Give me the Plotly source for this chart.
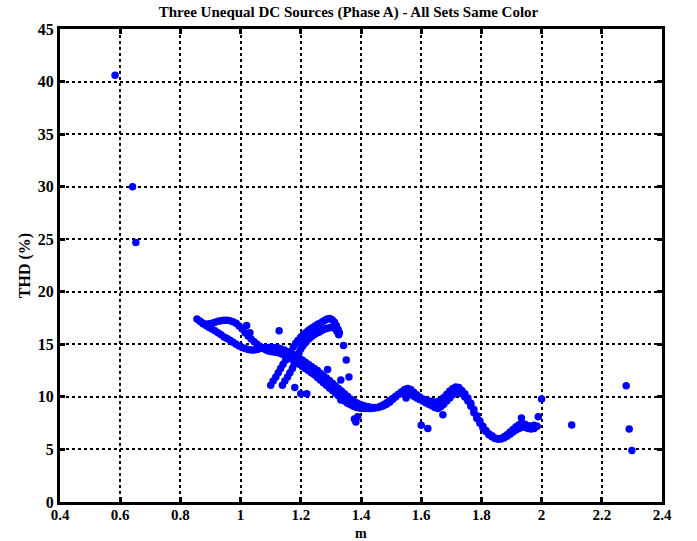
import plotly.graph_objects as go

# ---- data ----
main_m = [0.855, 0.865, 0.875, 0.885, 0.895, 0.905, 0.915, 0.925, 0.935, 0.945,
          0.955, 0.965, 0.975, 0.985, 0.995, 1.005, 1.015, 1.025, 1.035, 1.045,
          1.055, 1.065, 1.075, 1.085, 1.095, 1.105, 1.115, 1.125, 1.135, 1.145,
          1.155, 1.165, 1.175, 1.185, 1.195, 1.205, 1.215, 1.225, 1.235, 1.245,
          1.255, 1.265, 1.275, 1.285, 1.295, 1.305, 1.315, 1.325, 1.335, 1.345,
          1.355, 1.365, 1.375, 1.385, 1.395, 1.405, 1.415, 1.425, 1.435, 1.445,
          1.455, 1.465, 1.475, 1.485, 1.495, 1.505, 1.515, 1.525, 1.535, 1.545,
          1.555, 1.565, 1.575, 1.585, 1.595, 1.605, 1.615, 1.625, 1.635, 1.645,
          1.655, 1.665, 1.675, 1.685, 1.695, 1.705, 1.715, 1.725, 1.735, 1.745,
          1.755, 1.765, 1.775, 1.785, 1.795, 1.805, 1.815, 1.825, 1.835, 1.845,
          1.855, 1.865, 1.875, 1.885, 1.895, 1.905, 1.915, 1.925, 1.935, 1.945,
          1.955, 1.965, 1.975, 1.985]
main_thd = [17.4, 17.2, 16.95, 16.8, 16.6, 16.45, 16.3, 16.1, 15.9, 15.7,
            15.55, 15.4, 15.2, 15.0, 14.85, 14.7, 14.6, 14.5, 14.45, 14.45,
            14.5, 14.6, 14.65, 14.7, 14.7, 14.7, 14.7, 14.65, 14.55, 14.45,
            14.3, 14.15, 14.0, 13.8, 13.65, 13.5, 13.3, 13.1, 12.9, 12.7,
            12.5, 12.25, 12.0, 11.8, 11.55, 11.3, 11.05, 10.8, 10.55, 10.3,
            10.05, 9.8, 9.6, 9.45, 9.3, 9.2, 9.1, 9.05, 9.0, 9.0,
            9.0, 9.05, 9.15, 9.3, 9.5, 9.75, 10.0, 10.25, 10.5, 10.7,
            10.8, 10.7, 10.45, 10.2, 10.0, 9.8, 9.7, 9.6, 9.55, 9.5,
            9.55, 9.7, 9.95, 10.25, 10.55, 10.8, 10.95, 10.9, 10.6, 10.3,
            9.9, 9.4, 8.8, 8.2, 7.7, 7.2, 6.8, 6.5, 6.3, 6.1,
            6.0, 6.0, 6.1, 6.25, 6.45, 6.65, 6.85, 7.0, 7.1, 7.1,
            7.0, 6.95, 7.0, 7.2]

second_m = [0.865, 0.875, 0.885, 0.895, 0.905, 0.915, 0.925, 0.935, 0.945, 0.955,
            0.965, 0.975, 0.985, 0.995, 1.005, 1.015, 1.025, 1.035, 1.045, 1.055,
            1.065, 1.075, 1.085, 1.095, 1.105, 1.115, 1.125, 1.135, 1.145, 1.155,
            1.165, 1.175, 1.185, 1.195, 1.205, 1.215, 1.225, 1.235, 1.245, 1.255,
            1.265, 1.275, 1.285, 1.295, 1.305, 1.315, 1.325, 1.335, 1.345, 1.355,
            1.365, 1.375, 1.385, 1.395, 1.405, 1.415, 1.425, 1.435, 1.445, 1.455,
            1.465, 1.475, 1.485, 1.495, 1.505, 1.515, 1.525, 1.535, 1.545, 1.555,
            1.565, 1.575, 1.585, 1.595, 1.605, 1.615, 1.625, 1.635, 1.645, 1.655,
            1.665, 1.675, 1.685, 1.695, 1.705, 1.715, 1.725, 1.735, 1.745, 1.755,
            1.765, 1.775, 1.785, 1.795, 1.805, 1.815, 1.825, 1.835, 1.845, 1.855,
            1.865, 1.875, 1.885, 1.895, 1.905, 1.915, 1.925, 1.935, 1.945, 1.955,
            1.965, 1.975]
second_thd = [17.2, 17.0, 16.9, 16.95, 17.0, 17.1, 17.2, 17.25, 17.3, 17.3,
              17.25, 17.15, 17.0, 16.75, 16.45, 16.1, 15.8, 15.5, 15.25, 15.0,
              14.8, 14.6, 14.45, 14.35, 14.3, 14.25, 14.2, 14.1, 13.95, 13.8,
              13.65, 13.5, 13.3, 13.1, 12.9, 12.7, 12.5, 12.3, 12.1, 11.85,
              11.6, 11.35, 11.1, 10.85, 10.6, 10.35, 10.1, 9.85, 9.6, 9.4,
              9.25, 9.1, 9.0, 8.95, 8.9, 8.9, 8.9, 8.9, 8.95, 9.0,
              9.1, 9.25, 9.45, 9.65, 9.85, 10.05, 10.25, 10.4, 10.5, 10.45,
              10.25, 10.05, 9.9, 9.75, 9.6, 9.45, 9.3, 9.15, 9.0, 8.9,
              9.05, 9.3, 9.6, 9.9, 10.2, 10.4, 10.45, 10.3, 10.0, 9.6,
              9.1, 8.5, 7.95, 7.5, 7.05, 6.7, 6.4, 6.2, 6.05, 6.0,
              6.05, 6.2, 6.4, 6.65, 6.9, 7.15, 7.35, 7.45, 7.4, 7.25,
              7.2, 7.3]

rise1_m = [1.100, 1.108, 1.117, 1.125, 1.133, 1.141, 1.150, 1.158, 1.167, 1.175,
           1.183, 1.191, 1.200, 1.208, 1.216, 1.224, 1.232, 1.240, 1.248, 1.256,
           1.264, 1.272, 1.280, 1.288, 1.296, 1.304, 1.312, 1.318, 1.324, 1.328]
rise1_thd = [11.1, 11.5, 11.9, 12.3, 12.7, 13.1, 13.5, 13.9, 14.3, 14.75,
             15.1, 15.4, 15.7, 15.9, 16.1, 16.3, 16.45, 16.6, 16.75, 16.9,
             17.0, 17.15, 17.3, 17.4, 17.45, 17.35, 17.1, 16.8, 16.4, 16.1]

rise2_m = [1.139, 1.147, 1.156, 1.164, 1.172, 1.178, 1.183, 1.189, 1.194, 1.200,
           1.206, 1.213, 1.220, 1.228, 1.236, 1.244, 1.252, 1.260, 1.268, 1.276,
           1.284, 1.292, 1.300, 1.308, 1.315, 1.321, 1.326]
rise2_thd = [11.1, 11.5, 11.9, 12.3, 12.7, 13.1, 13.5, 13.85, 14.2, 14.55,
             14.85, 15.1, 15.35, 15.55, 15.75, 15.9, 16.05, 16.15, 16.3, 16.4,
             16.5, 16.55, 16.6, 16.6, 16.45, 16.2, 15.9]

outlier_m = [0.583, 0.641, 0.652, 1.020, 1.031, 1.128, 1.180, 1.200, 1.220, 1.289,
             1.333, 1.342, 1.351, 1.360, 1.333, 1.389, 1.383, 1.378, 1.550, 1.600,
             1.622, 1.672, 1.933, 1.989, 2.000, 2.100, 2.281, 2.291, 2.300]
outlier_thd = [40.6, 30.0, 24.7, 16.8, 16.1, 16.3, 10.9, 10.3, 10.3, 12.6,
               11.6, 14.9, 13.5, 11.9, 9.7, 8.1, 7.6, 7.9, 9.9, 7.3,
               7.0, 8.3, 8.0, 8.1, 9.8, 7.33, 11.05, 6.95, 4.9]

x_ticks = [0.4, 0.6, 0.8, 1.0, 1.2, 1.4, 1.6, 1.8, 2.0, 2.2, 2.4]
x_labels = ["0.4", "0.6", "0.8", "1", "1.2", "1.4", "1.6", "1.8", "2", "2.2", "2.4"]
y_ticks = [0, 5, 10, 15, 20, 25, 30, 35, 40, 45]

series = [(main_m, main_thd), (second_m, second_thd), (rise1_m, rise1_thd),
          (rise2_m, rise2_thd), (outlier_m, outlier_thd)]

fig = go.Figure()
for xs, ys in series:
    fig.add_trace(go.Scatter(x=xs, y=ys, mode="markers",
                             marker=dict(color="#0000ff", size=7.5, line=dict(width=0)),
                             showlegend=False, hoverinfo="skip"))

FONT = "Liberation Serif"
axis_common = dict(showline=True, linecolor="black", linewidth=3, mirror="ticks",
                   ticks="inside", ticklen=5, tickwidth=2.5, tickcolor="black",
                   showgrid=True, gridcolor="black", gridwidth=2, griddash="dot",
                   zeroline=False, automargin=False)

fig.update_xaxes(range=[0.4, 2.4], tickvals=x_ticks, ticktext=x_labels,
                 ticklabelstandoff=-3,
                 tickfont=dict(family=FONT, size=15, color="black", weight="bold"),
                 **axis_common)
fig.update_yaxes(range=[0, 45], tickvals=y_ticks,
                 tickfont=dict(family=FONT, size=16, color="black", weight="bold"),
                 title=dict(text="THD (%)", standoff=4,
                            font=dict(family=FONT, size=16, color="black", weight="bold")),
                 **axis_common)

fig.update_layout(
    width=697, height=541,
    margin=dict(l=60, r=35, t=29, b=39),
    paper_bgcolor="white", plot_bgcolor="white",
    title=dict(text="Three Unequal DC Sources (Phase A) - All Sets Same Color",
               x=0.5, xanchor="center", y=0.978, yanchor="middle",
               font=dict(family=FONT, size=15, color="black", weight="bold")),
    annotations=[dict(text="m", xref="paper", yref="paper", x=0.5, y=-0.047,
                      xanchor="center", yanchor="top", showarrow=False,
                      font=dict(family=FONT, size=14, color="black", weight="bold"))],
)

fig.write_html("out.html")
